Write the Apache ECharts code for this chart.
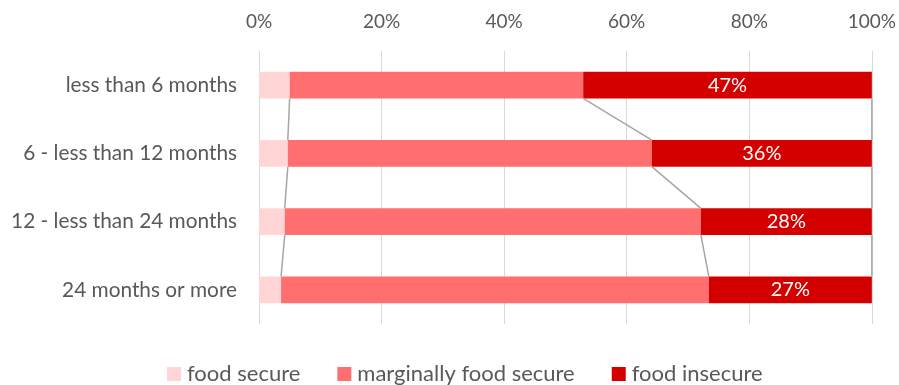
<!DOCTYPE html>
<html><head><meta charset="utf-8">
<script src="https://cdn.jsdelivr.net/npm/echarts@6/dist/echarts.min.js"></script>
<style>html,body{margin:0;padding:0;background:#fff}#c{width:899px;height:385px}</style>
</head><body><div id="c"></div>
<script>
const categories = ['less than 6 months', '6 - less than 12 months', '12 - less than 24 months', '24 months or more'];
const foodSecure = [5.0, 4.7, 4.2, 3.6];
const marginallySecure = [47.9, 59.4, 67.9, 69.8];
const foodInsecure = [47.1, 35.9, 27.9, 26.6];
const xTicks = [0, 20, 40, 60, 80, 100];

const colors = ['#FFD5D5', '#FF6F6F', '#D40000'];
const barPct = 0.39;

// cumulative boundaries for series lines
const cum1 = foodSecure;
const cum2 = foodSecure.map((v, i) => v + marginallySecure[i]);
const cum3 = cum2.map((v, i) => v + foodInsecure[i]);
const lineData = [];
for (let i = 0; i < categories.length - 1; i++) {
  lineData.push([cum1[i], cum1[i + 1], i]);
  lineData.push([cum2[i], cum2[i + 1], i]);
  lineData.push([cum3[i], cum3[i + 1], i]);
}

const chart = echarts.init(document.getElementById('c'), null, {renderer: 'canvas'});
const font = 'Lato';
chart.setOption({
  animation: false,
  textStyle: {fontFamily: font},
  grid: {left: 259, right: 25, top: 51, bottom: 61, containLabel: false},
  legend: {
    top: 358, left: 162, itemWidth: 14, itemHeight: 14, itemGap: 37,
    icon: 'rect',
    textStyle: {fontSize: 22, color: '#595959', fontFamily: font, padding: [0, 0, 0, 1]},
    data: ['food secure', 'marginally food secure', 'food insecure']
  },
  xAxis: {
    type: 'value', position: 'top', min: 0, max: 100, interval: 20,
    axisLabel: {formatter: v => xTicks.includes(v) ? v + '%' : '', color: '#595959', fontSize: 19, margin: 20},
    axisLine: {show: false}, axisTick: {show: false},
    splitLine: {show: true, lineStyle: {color: '#d9d9d9', width: 1}}
  },
  yAxis: {
    type: 'category', data: categories, inverse: true,
    axisLabel: {color: '#595959', fontSize: 20.8, margin: 22},
    axisLine: {show: false}, axisTick: {show: false}
  },
  series: [
    {name: 'food secure', type: 'bar', stack: 's', data: foodSecure, barWidth: (barPct * 100) + '%', itemStyle: {color: colors[0]}},
    {name: 'marginally food secure', type: 'bar', stack: 's', data: marginallySecure, itemStyle: {color: colors[1]}},
    {name: 'food insecure', type: 'bar', stack: 's', data: foodInsecure, itemStyle: {color: colors[2]},
      label: {show: true, position: 'inside', color: '#fff', fontSize: 20, formatter: p => Math.round(p.value) + '%'}},
    {
      type: 'custom', silent: true, z: 5,
      data: lineData,
      renderItem: function (params, api) {
        const a = api.value(0), b = api.value(1), i = api.value(2);
        const p1 = api.coord([a, i]);
        const p2 = api.coord([b, i + 1]);
        const band = api.size([0, 1])[1];
        const h = band * barPct / 2;
        return {type: 'line', shape: {x1: p1[0], y1: p1[1] + h, x2: p2[0], y2: p2[1] - h},
          style: {stroke: '#a6a6a6', lineWidth: 1.5}};
      }
    }
  ]
});
</script></body></html>
